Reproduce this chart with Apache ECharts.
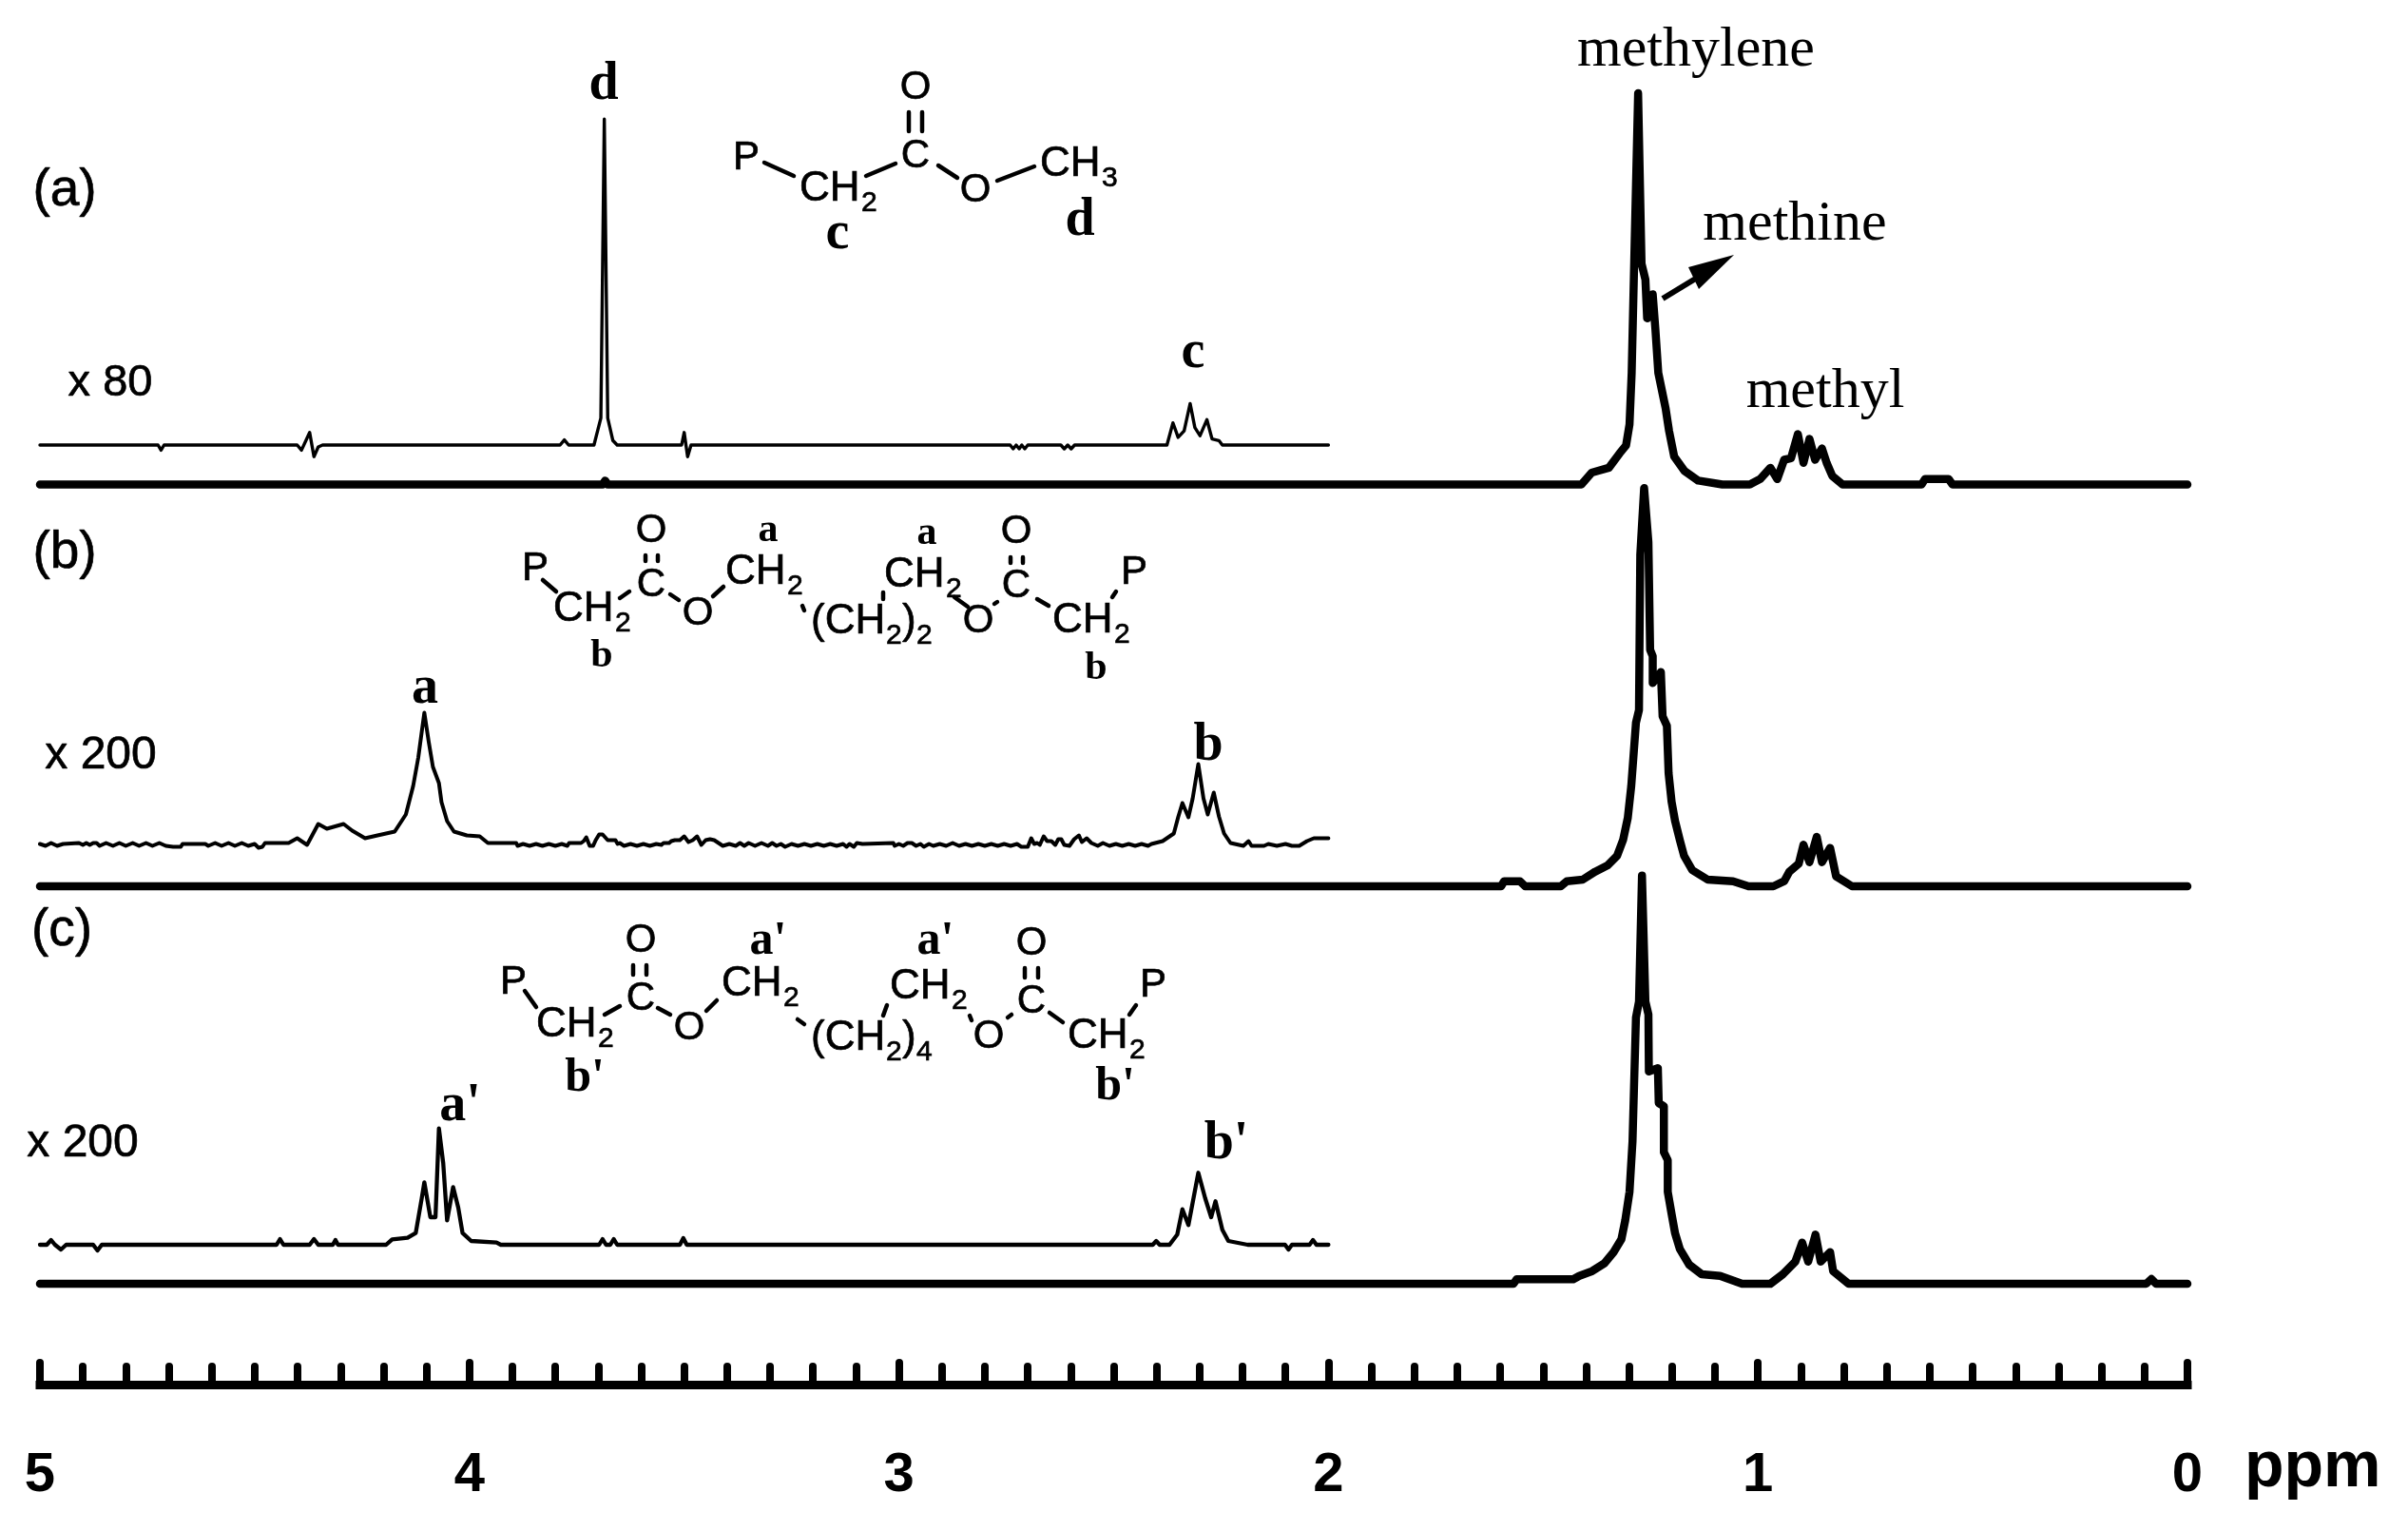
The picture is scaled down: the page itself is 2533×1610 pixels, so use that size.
<!DOCTYPE html>
<html>
<head>
<meta charset="utf-8">
<title>NMR spectra</title>
<script src="https://cdn.jsdelivr.net/npm/echarts@6/dist/echarts.min.js"></script>
<style>
html,body{margin:0;padding:0;background:#fff;}
#main{width:2533px;height:1610px;}
</style>
</head>
<body>
<div id="main"></div>
<script>
//ppm范围和刻度
var ppmMin=0;
var ppmMax=5;
var ppmStep=1;
var ppmMinorSplit=10;

//主谱线 [ppm, 强度]
var mainA=[[5,0],[3.69,0],[3.684,4],[3.678,0],[1.411,0],[1.387,12.5],[1.347,17.6],[1.322,32.8],[1.307,41.2],[1.299,63.2],[1.294,117.3],[1.288,235.7],[1.279,411.5],[1.271,232.3],[1.262,215.4],[1.258,174.8],[1.245,200.1],[1.239,164.7],[1.232,117.3],[1.215,80.1],[1.207,56.5],[1.195,29.4],[1.171,14.2],[1.139,4.1],[1.083,0],[1.019,0],[0.995,5.7],[0.971,17.6],[0.955,5.7],[0.939,26],[0.923,27.7],[0.907,53],[0.894,22.7],[0.88,48],[0.867,26],[0.851,37.9],[0.84,22.7],[0.827,9.1],[0.803,0],[0.619,0],[0.611,5.7],[0.556,5.7],[0.547,0],[0,0]];
var mainB=[[5,0],[1.598,0],[1.591,5.3],[1.554,5.3],[1.542,0],[1.459,0],[1.445,5.3],[1.408,7],[1.379,15.3],[1.35,22],[1.328,32],[1.314,48.7],[1.303,72],[1.295,105.3],[1.284,172],[1.277,185.3],[1.274,348.7],[1.265,418.7],[1.255,362],[1.251,248.7],[1.245,242],[1.245,213.7],[1.226,225.3],[1.222,178.7],[1.212,168.7],[1.208,118.7],[1.201,88.7],[1.193,68.7],[1.182,48.7],[1.172,32],[1.153,17],[1.117,7],[1.058,5.3],[1.022,0],[0.964,0],[0.939,5.3],[0.927,15.3],[0.905,23.7],[0.894,43.7],[0.88,25.3],[0.863,52],[0.851,25.3],[0.832,40.3],[0.818,10.3],[0.781,0],[0,0]];
var mainC=[[5,0],[1.569,0],[1.562,4.7],[1.43,4.7],[1.416,8.3],[1.386,13.3],[1.357,21.7],[1.336,33.3],[1.318,46.7],[1.309,66.7],[1.299,96.7],[1.292,150],[1.284,280],[1.277,296.7],[1.27,429.3],[1.262,296.7],[1.255,283.3],[1.254,223.3],[1.233,226.7],[1.231,190],[1.219,186.7],[1.219,138.3],[1.21,130],[1.21,96.7],[1.201,73.3],[1.193,53.3],[1.182,36.7],[1.16,20],[1.131,10],[1.088,8.3],[1.037,0],[0.971,0],[0.942,10],[0.913,23.3],[0.897,43.3],[0.883,23.3],[0.866,51.7],[0.854,23.3],[0.832,33.3],[0.825,13.3],[0.789,0],[0.096,0],[0.084,5],[0.073,0],[0,0]];

//放大谱线 [ppm, 强度]
var insetA=[[5,0],[4.725,0],[4.718,-5.4],[4.711,0],[4.401,0],[4.391,-5.4],[4.372,13.2],[4.362,-12.2],[4.352,-2],[4.342,0],[3.789,0],[3.779,5.4],[3.769,0],[3.71,0],[3.694,28.4],[3.686,342.8],[3.678,28.4],[3.666,4.7],[3.656,0],[3.506,0],[3.5,13.2],[3.492,-12.2],[3.484,0],[2.741,0],[2.734,-4],[2.727,0],[2.72,-4],[2.714,0],[2.707,-4],[2.7,0],[2.623,0],[2.615,-4],[2.607,0],[2.599,-4],[2.591,0],[2.376,0],[2.362,23.3],[2.35,8.1],[2.336,14.9],[2.322,43.6],[2.311,18.3],[2.299,9.8],[2.283,26.7],[2.271,6.4],[2.255,4.7],[2.247,0],[2,0]];
var insetB=[[5,-1],[4.987,-3],[4.974,0],[4.96,-3],[4.946,-1],[4.943,0],[4.909,0],[4.9,-2],[4.892,0],[4.884,-2],[4.876,0],[4.868,0],[4.861,-3],[4.846,0],[4.83,-3],[4.815,0],[4.8,-3],[4.784,0],[4.769,-3],[4.753,0],[4.738,-3],[4.722,0],[4.707,-3],[4.69,-4],[4.68,-4],[4.672,-4],[4.668,-1],[4.63,-1],[4.615,-1],[4.608,-3],[4.592,0],[4.577,-3],[4.561,0],[4.546,-3],[4.53,0],[4.515,-3],[4.5,-1],[4.491,-5],[4.482,-4],[4.476,0],[4.421,0],[4.401,5],[4.378,-2],[4.352,20],[4.332,15],[4.293,20],[4.273,13],[4.243,5],[4.214,8],[4.174,12],[4.148,30],[4.131,60],[4.119,90],[4.111,117],[4.105,137],[4.095,107],[4.085,80],[4.071,63],[4.065,43],[4.052,23],[4.036,12],[4.006,8],[3.976,7],[3.957,0],[3.891,0],[3.888,-3],[3.875,-1],[3.86,-3],[3.845,-1],[3.83,-3],[3.815,-1],[3.8,-3],[3.785,-1],[3.772,-3],[3.768,0],[3.74,0],[3.734,2],[3.728,6],[3.72,-3],[3.712,-3],[3.706,3],[3.698,9],[3.69,9],[3.678,3],[3.66,3],[3.655,-1],[3.65,0],[3.64,-3],[3.625,-1],[3.61,-3],[3.595,-1],[3.58,-3],[3.565,-1],[3.553,-2],[3.548,0],[3.535,0],[3.53,2],[3.522,3],[3.51,3],[3.5,7],[3.49,1],[3.48,3],[3.47,7],[3.46,-2],[3.45,3],[3.44,4],[3.43,3],[3.42,0],[3.41,-3],[3.395,-1],[3.38,-3],[3.37,0],[3.36,-3],[3.35,0],[3.335,-3],[3.32,0],[3.305,-3],[3.295,0],[3.285,-3],[3.275,-1],[3.265,-4],[3.25,-1],[3.235,-3],[3.22,-1],[3.205,-3],[3.19,-1],[3.175,-3],[3.16,-1],[3.145,-3],[3.13,-1],[3.122,-4],[3.115,-1],[3.105,-4],[3.098,0],[3.085,-1],[3.013,0],[3.01,-3],[3,-1],[2.99,-3],[2.98,0],[2.97,0],[2.96,-3],[2.95,-1],[2.942,-4],[2.93,-1],[2.92,-3],[2.905,-1],[2.89,-3],[2.875,0],[2.86,-3],[2.845,-1],[2.83,-3],[2.815,-1],[2.8,-3],[2.785,-1],[2.77,-3],[2.755,-1],[2.74,-3],[2.725,-1],[2.715,-4],[2.7,-4],[2.692,5],[2.685,-1],[2.678,0],[2.672,-2],[2.663,7],[2.655,2],[2.645,2],[2.636,-2],[2.629,4],[2.622,4],[2.615,-2],[2.603,-3],[2.592,4],[2.581,8],[2.574,1],[2.563,5],[2.552,0],[2.537,-3],[2.525,0],[2.51,-3],[2.495,-1],[2.48,-3],[2.465,-1],[2.45,-3],[2.435,-1],[2.42,-3],[2.412,-1],[2.386,2],[2.36,10],[2.35,27],[2.34,42],[2.326,27],[2.316,47],[2.303,83],[2.291,47],[2.281,30],[2.267,53],[2.255,28],[2.243,10],[2.228,0],[2.198,-3],[2.186,2],[2.179,-3],[2.15,-3],[2.14,-1],[2.12,-3],[2.1,-1],[2.085,-3],[2.068,-3],[2.05,2],[2.034,5],[2,5]];
var insetC=[[5,0],[4.984,0],[4.974,5],[4.965,0],[4.951,-5],[4.939,0],[4.876,0],[4.866,-6],[4.856,0],[4.449,0],[4.441,6],[4.433,0],[4.372,0],[4.362,6],[4.352,0],[4.318,0],[4.312,5],[4.306,0],[4.194,0],[4.18,5.7],[4.144,7.3],[4.125,12.3],[4.111,49],[4.105,65.7],[4.091,29],[4.079,29],[4.071,122.3],[4.061,85.7],[4.052,25.7],[4.038,60.7],[4.026,39],[4.016,12.3],[3.996,4],[3.937,2.3],[3.927,0],[3.698,0],[3.69,6],[3.682,0],[3.672,0],[3.664,6],[3.656,0],[3.51,0],[3.502,7],[3.494,0],[2.409,0],[2.401,4],[2.393,0],[2.37,0],[2.352,10.7],[2.34,37.3],[2.326,20.7],[2.303,75.7],[2.287,49],[2.273,29],[2.263,45.7],[2.247,15.7],[2.233,4],[2.188,0],[2.101,0],[2.093,-5],[2.085,0],[2.044,0],[2.036,5],[2.028,0],[2,0]];

//谱线列表:数据/基线像素位置/线宽
var traces=[
    {data:mainA,base:509.5,width:8.5},
    {data:mainB,base:932,width:8.5},
    {data:mainC,base:1350,width:8.5},
    {data:insetA,base:468,width:3.4},
    {data:insetB,base:886.5,width:4},
    {data:insetC,base:1309,width:4.3}
];

var SANS='"Liberation Sans"';
var SERIF='"Liberation Serif"';

//文字
function t(text,x,y,size,family,weight,align){
    var fam=family||SANS;
    var style={
        text:text,fill:'#000',
        font:(weight||'normal')+' '+size+'px '+fam,
        textAlign:align||'center',textVerticalAlign:'middle'
    };
    //原图的无衬线字偏粗
    if(fam==SANS&&!weight){
        style.stroke='#000';
        style.lineWidth=0.7;
    }
    return {type:'text',x:x,y:y,silent:true,style:style};
}
//键
function bond(x1,y1,x2,y2){
    return {type:'line',silent:true,shape:{x1:x1,y1:y1,x2:x2,y2:y2},style:{stroke:'#000',lineWidth:4.5,lineCap:'round'}};
}
//CH2 / CH3
function ch(x,y,n){
    return [t('CH',x,y,44,SANS,'','left'),t(n||'2',x+65,y+15,30,SANS,'','left')];
}
//(CH2)n
function chain(x,y,n){
    return [
        t('(CH',x,y,44,SANS,'','left'),t('2',x+79,y+15,30,SANS,'','left'),
        t(')',x+96,y,44,SANS,'','left'),t(n,x+111,y+15,30,SANS,'','left')
    ];
}
//C=O
function carbonyl(x,y,gap){
    return [t('O',x,y,42),t('C',x,y+gap,42)];
}

var graphics=[].concat(
    //面板标签和放大倍数
    t('(a)',68,201,55),t('(b)',68,582,55),t('(c)',65,979,55),
    t('x 80',116,403,47),t('x 200',106,795,48),t('x 200',87,1203,48),
    //峰归属
    t('methylene',1784,53,60,SERIF),
    t('methine',1888,236,60,SERIF),
    t('methyl',1920,412,60,SERIF),
    t('d',635,90,56,SERIF,'bold'),
    t('c',1255,372,56,SERIF,'bold'),
    t('a',447,725,56,SERIF,'bold'),
    t('b',1271,785,56,SERIF,'bold'),
    t("a'",484,1164,56,SERIF,'bold'),
    t("b'",1290,1204,56,SERIF,'bold'),
    //箭头
    {type:'line',silent:true,shape:{x1:1749,y1:314,x2:1800,y2:283},style:{stroke:'#000',lineWidth:6}},
    {type:'polygon',silent:true,shape:{points:[[1824,268],[1776,281],[1787,304]]},style:{fill:'#000'}},
    //结构式(a)
    t('P',785,166,42),ch(841,199),carbonyl(963,92,72),t('O',1026,200,42),ch(1094,173,'3'),
    bond(804,171,835,185),bond(911,185,942,172),bond(987,174,1007,187),bond(1049,190,1088,175),
    bond(956,118,956,138),bond(970,118,970,138),
    t('c',881,247,56,SERIF,'bold'),t('d',1136,233,56,SERIF,'bold'),
    //结构式(b)
    t('P',563,598,42),ch(582,641),carbonyl(685,558,57),t('O',734,645,42),ch(763,602),chain(853,654,'2'),
    ch(930,605),t('O',1029,653,42),carbonyl(1069,559,57),ch(1107,653),t('P',1193,602,42),
    bond(571,610,585,622),bond(652,629,662,622),bond(705,625,714,631),bond(750,627,761,617),bond(844,637,846,642),
    bond(929,623,929,630),bond(1004,628,1018,638),bond(1046,635,1049,633),bond(1091,630,1103,637),bond(1170,628,1174,622),
    bond(679,584,679,590),bond(692,584,692,590),bond(1063,586,1063,592),bond(1076,586,1076,592),
    t('a',808,558,42,SERIF,'bold'),t('a',975,561,42,SERIF,'bold'),t('b',633,690,42,SERIF,'bold'),t('b',1153,703,42,SERIF,'bold'),
    //结构式(c)
    t('P',540,1033,42),ch(564,1078),carbonyl(674,989,61),t('O',725,1081,42),ch(759,1035),chain(853,1092,'4'),
    ch(936,1038),t('O',1040,1090,42),carbonyl(1085,992,61),ch(1123,1090),t('P',1213,1036,42),
    bond(552,1042,564,1059),bond(636,1067,652,1058),bond(692,1060,705,1067),bond(743,1063,754,1052),bond(839,1072,846,1077),
    bond(929,1068,933,1057),bond(1020,1068,1022,1073),bond(1060,1070,1064,1067),bond(1104,1065,1118,1075),bond(1188,1067,1195,1057),
    bond(666,1015,666,1025),bond(680,1015,680,1025),bond(1078,1018,1078,1028),bond(1092,1018,1092,1028),
    t("a'",808,990,50,SERIF,'bold'),t("a'",984,990,50,SERIF,'bold'),t("b'",615,1134,50,SERIF,'bold'),t("b'",1173,1143,50,SERIF,'bold'),
    //单位
    t('ppm',2361,1544,68,SANS,'bold','left')
);

var grids=[],xAxes=[],yAxes=[],series=[];
var PX_LEFT=42,PX_WIDTH=2259,TRACE_H=440;

//每条谱线一个网格,y轴1单位=1像素
for(var i=0;i<traces.length;i++){
    grids.push({left:PX_LEFT,width:PX_WIDTH,top:traces[i].base-TRACE_H,height:TRACE_H});
    xAxes.push({type:'value',gridIndex:i,show:false,inverse:true,min:ppmMin,max:ppmMax});
    yAxes.push({type:'value',gridIndex:i,show:false,min:0,max:TRACE_H});
    series.push({
        type:'line',xAxisIndex:i,yAxisIndex:i,data:traces[i].data,
        showSymbol:false,clip:false,smooth:false,silent:true,
        lineStyle:{color:'#000',width:traces[i].width,join:'round',cap:'round'}
    });
}

//底部ppm坐标轴
var axisIdx=traces.length;
grids.push({left:PX_LEFT,width:PX_WIDTH,top:1400,height:56});
xAxes.push({
    type:'value',gridIndex:axisIdx,position:'bottom',inverse:true,
    min:ppmMin,max:ppmMax,interval:ppmStep,
    axisLine:{show:true,onZero:false,lineStyle:{color:'#000',width:9,cap:'square'}},
    axisTick:{show:true,inside:true,length:23,lineStyle:{color:'#000',width:8,cap:'round'}},
    minorTick:{show:true,splitNumber:ppmMinorSplit,length:19,lineStyle:{color:'#000',width:8,cap:'round'}},
    splitLine:{show:false},minorSplitLine:{show:false},
    axisLabel:{show:true,margin:96,verticalAlign:'middle',color:'#000',fontFamily:SANS,fontWeight:'bold',fontSize:58}
});
yAxes.push({type:'value',gridIndex:axisIdx,show:false,min:0,max:1});
series.push({type:'line',xAxisIndex:axisIdx,yAxisIndex:axisIdx,data:[],silent:true});

var myChart=echarts.init(document.getElementById('main'),null,{renderer:'canvas'});
myChart.setOption({
    animation:false,
    backgroundColor:'#fff',
    tooltip:{show:false},
    grid:grids,xAxis:xAxes,yAxis:yAxes,series:series,
    graphic:{elements:graphics}
});
</script>
</body>
</html>
